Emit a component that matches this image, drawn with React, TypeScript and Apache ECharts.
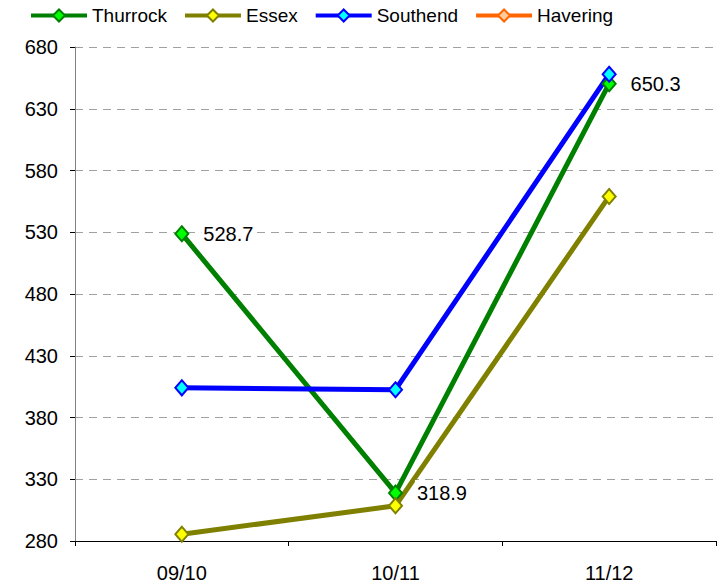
import React, { useEffect, useRef } from "react";
import * as echarts from "echarts";

const categories = ["09/10", "10/11", "11/12"];
const thurrock = [528.7, 318.9, 650.3];
const essex = [285.5, 308.5, 559];
const southend = [404, 402.5, 658];
const havering: (number | null)[] = [null, null, null];

const FONT = "'Liberation Sans', Arial, sans-serif";

export default function App() {
  const ref = useRef<HTMLDivElement>(null);
  useEffect(() => {
    if (!ref.current) return;
    const chart = echarts.init(ref.current, undefined, { renderer: "svg" });
    const mk = (name: string, data: (number | null)[], line: string, fill: string, label = false) => ({
      name,
      type: "line",
      data,
      symbol: "diamond",
      symbolSize: [13, 15],
      lineStyle: { color: line, width: 5 },
      itemStyle: { color: fill, borderColor: line, borderWidth: 2 },
      label: label
        ? {
            show: true,
            position: "right",
            distance: 12,
            color: "#000",
            fontSize: 20,
            fontFamily: FONT,
            backgroundColor: "#fff",
            padding: [3, 2, 3, 2],
          }
        : { show: false },
      emphasis: { disabled: true },
      z: 3,
    });
    chart.setOption({
      animation: false,
      textStyle: { fontFamily: FONT },
      legend: {
        left: 24,
        top: 1,
        itemWidth: 56,
        itemHeight: 15,
        itemGap: 16,
        lineStyle: { width: 4 },
        itemStyle: { borderWidth: 2 },
        textStyle: { fontSize: 19, color: "#000", fontFamily: FONT },
        data: ["Thurrock", "Essex", "Southend", "Havering"],
      },
      grid: { left: 75, right: 6, top: 47, bottom: 43, containLabel: false },
      xAxis: {
        type: "category",
        data: categories,
        boundaryGap: true,
        axisLine: { lineStyle: { color: "#000", width: 1 } },
        axisTick: { show: true, length: 5, lineStyle: { color: "#000" } },
        axisLabel: { color: "#000", fontSize: 20, margin: 22, fontFamily: FONT },
        splitLine: { show: false },
      },
      yAxis: {
        type: "value",
        min: 280,
        max: 680,
        interval: 50,
        axisLine: { show: true, lineStyle: { color: "#808080", width: 1 } },
        axisTick: { show: true, length: 5, lineStyle: { color: "#000" } },
        axisLabel: { color: "#000", fontSize: 20, margin: 17, fontFamily: FONT },
        splitLine: { show: true, lineStyle: { color: "#a0a0a0", type: [8, 6], width: 1 } },
      },
      series: [
        mk("Thurrock", thurrock, "#008000", "#00ff00", true),
        mk("Essex", essex, "#808000", "#ffff00"),
        mk("Southend", southend, "#0000ff", "#00ffff"),
        mk("Havering", havering, "#ff6600", "#ffcc99"),
      ],
    });
    return () => chart.dispose();
  }, []);
  return <div ref={ref} style={{ width: 722, height: 584, position: "absolute", left: 0, top: 0 }} />;
}
